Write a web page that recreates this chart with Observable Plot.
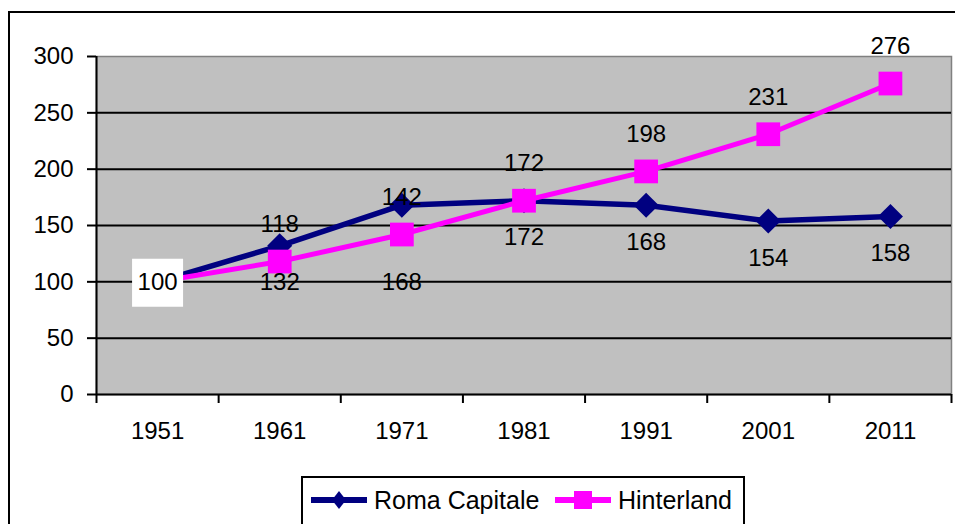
<!DOCTYPE html>
<html>
<head>
<meta charset="utf-8">
<script src="https://cdn.jsdelivr.net/npm/d3@7"></script>
<script src="https://cdn.jsdelivr.net/npm/@observablehq/plot@0.6"></script>
<style>
  html, body { margin: 0; padding: 0; background: #fff; }
  #wrap { position: relative; width: 955px; height: 524px; overflow: hidden; font-family: "Liberation Sans", Arial, sans-serif; }
  #border { position: absolute; left: 8px; top: 11px; width: 2000px; height: 2000px; border-left: 2px solid #000; border-top: 2px solid #000; box-sizing: border-box; }
  #chart { position: absolute; left: 0; top: 0; }
  #legend { position: absolute; left: 301px; top: 476px; width: 444px; height: 50px; border: 2px solid #000; box-sizing: border-box; background: #fff; }
  .item { position: absolute; top: 0; height: 44px; display: flex; align-items: center; font-size: 25px; color: #000; white-space: nowrap; }
  .item svg { margin-right: 7px; }
</style>
</head>
<body>
<div id="wrap">
  <div id="border"></div>
  <div id="chart"></div>
  <div id="legend"></div>
</div>
<script>
// ---- data ----
const years = [1951, 1961, 1971, 1981, 1991, 2001, 2011];
const roma = [100, 132, 168, 172, 168, 154, 158];
const hinterland = [100, 118, 142, 172, 198, 231, 276];
const seriesNames = ["Roma Capitale", "Hinterland"];
const seriesColors = ["#000080", "#ff00ff"];
const yTicks = [0, 50, 100, 150, 200, 250, 300];

// ---- build tables ----
const romaData = years.map((year, i) => ({year, value: roma[i], series: seriesNames[0]}));
const hintData = years.map((year, i) => ({year, value: hinterland[i], series: seriesNames[1]}));
const step = years[1] - years[0];
const boundaries = [...years.map(y => y - step / 2), years[years.length - 1] + step / 2];
const xDomain = [boundaries[0], boundaries[boundaries.length - 1]];
const first = years[0];

const labelBox = { draw(ctx) { ctx.rect(-25.5, -23, 51, 48); } };

const chart = Plot.plot({
  width: 955,
  height: 524,
  marginLeft: 96,
  marginRight: 4,
  marginTop: 56,
  marginBottom: 130,
  x: {domain: xDomain},
  y: {domain: [yTicks[0], yTicks[yTicks.length - 1]]},
  style: {fontFamily: "'Liberation Sans', Arial, sans-serif", fontSize: "24px", background: "transparent", color: "#000", overflow: "visible"},
  marks: [
    Plot.frame({fill: "#c0c0c0", stroke: "#808080", strokeWidth: 1.5}),
    Plot.ruleY(yTicks.slice(1, -1), {stroke: "#000", strokeWidth: 2}),
    Plot.ruleY([yTicks[0]], {stroke: "#000", strokeWidth: 2}),
    Plot.ruleX([xDomain[0]], {stroke: "#000", strokeWidth: 2}),
    Plot.axisY({ticks: yTicks, tickSize: 9, tickPadding: 14, strokeWidth: 2, label: null, fontSize: 24}),
    Plot.axisX({ticks: boundaries, tickSize: 9, strokeWidth: 2, tickFormat: () => "", label: null}),
    Plot.axisX({ticks: years, tickSize: 0, tickPadding: 27, tickFormat: d => String(d), label: null, fontSize: 24}),
    Plot.line(romaData, {x: "year", y: "value", stroke: seriesColors[0], strokeWidth: 5.5}),
    Plot.dot(romaData, {x: "year", y: "value", symbol: "diamond2", r: 11.3, fill: seriesColors[0], stroke: null}),
    Plot.line(hintData, {x: "year", y: "value", stroke: seriesColors[1], strokeWidth: 5}),
    Plot.dot(hintData, {x: "year", y: "value", symbol: "square", r: 13.4, fill: seriesColors[1], stroke: null}),
    Plot.dot(romaData.filter(d => d.year === first), {x: "year", y: "value", symbol: labelBox, r: 10, fill: "#fff", stroke: null}),
    Plot.text(romaData.filter(d => d.year === first), {x: "year", y: "value", text: d => String(d.value), fontSize: 24, fill: "#000"}),
    Plot.text(hintData.filter(d => d.year !== first), {x: "year", y: "value", text: d => String(d.value), dy: -37, fontSize: 24, fill: "#000"}),
    Plot.text(romaData.filter(d => d.year !== first && d.year !== 1971), {x: "year", y: "value", text: d => String(d.value), dy: 37, fontSize: 24, fill: "#000"}),
    Plot.text(romaData.filter(d => d.year === 1971), {x: "year", y: "value", text: d => String(d.value), dy: 77, fontSize: 24, fill: "#000"})
  ]
});
document.getElementById("chart").appendChild(chart);

// ---- legend ----
const legend = document.getElementById("legend");
const itemLeft = [8, 252];
const ns = "http://www.w3.org/2000/svg";
seriesNames.forEach((name, i) => {
  const item = document.createElement("div");
  item.className = "item";
  item.style.left = itemLeft[i] + "px";
  const svg = document.createElementNS(ns, "svg");
  svg.setAttribute("width", 56);
  svg.setAttribute("height", 24);
  const line = document.createElementNS(ns, "line");
  line.setAttribute("x1", 0); line.setAttribute("x2", 56);
  line.setAttribute("y1", 12); line.setAttribute("y2", 12);
  line.setAttribute("stroke", seriesColors[i]);
  line.setAttribute("stroke-width", 6);
  svg.appendChild(line);
  let marker;
  if (i === 0) {
    marker = document.createElementNS(ns, "path");
    marker.setAttribute("d", "M28,3 L35,12 L28,21 L21,12 Z");
  } else {
    marker = document.createElementNS(ns, "rect");
    marker.setAttribute("x", 19); marker.setAttribute("y", 3);
    marker.setAttribute("width", 18); marker.setAttribute("height", 18);
  }
  marker.setAttribute("fill", seriesColors[i]);
  svg.appendChild(marker);
  item.appendChild(svg);
  const span = document.createElement("span");
  span.textContent = name;
  item.appendChild(span);
  legend.appendChild(item);
});
</script>
</body>
</html>
